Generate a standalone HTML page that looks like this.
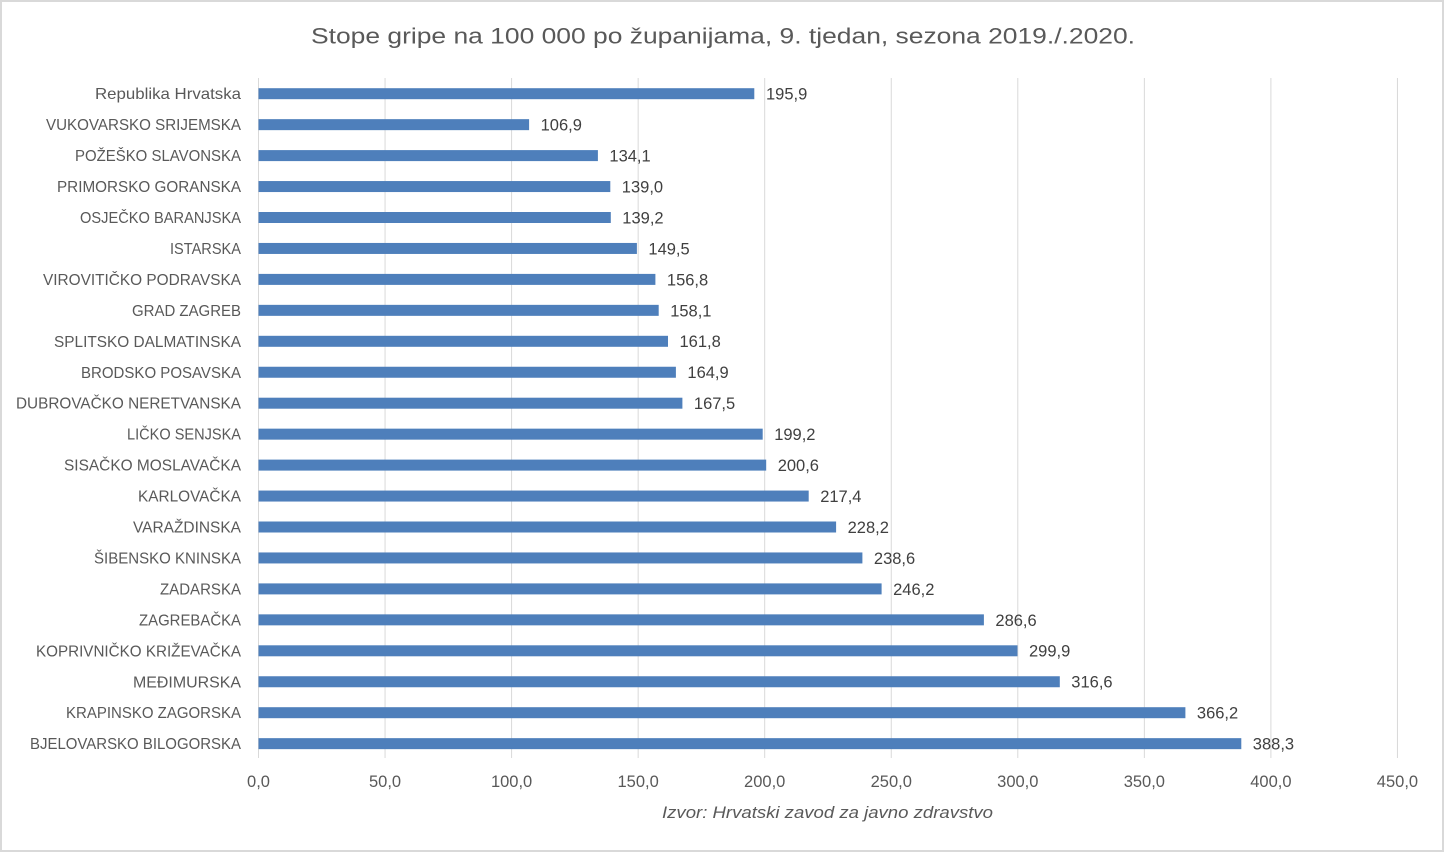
<!DOCTYPE html>
<html><head><meta charset="utf-8"><style>
html,body{margin:0;padding:0;background:#fff;}
svg{display:block;}
text{font-family:"Liberation Sans",Arial,sans-serif;fill:#595959;}
.c{font-size:16px;text-anchor:end;}
.v{font-size:16.5px;fill:#404040;}
.t{font-size:16.5px;text-anchor:middle;}
</style></head><body>
<svg width="1444" height="852" viewBox="0 0 1444 852" xmlns="http://www.w3.org/2000/svg">
<rect x="1" y="1" width="1442" height="850" fill="#fff" stroke="#d9d9d9" stroke-width="2"/>
<text x="311" y="43.5" font-size="22.5" textLength="824" lengthAdjust="spacingAndGlyphs">Stope gripe na 100 000 po županijama, 9. tjedan, sezona 2019./.2020.</text>
<g stroke="#d9d9d9" stroke-width="1">
<line x1="258.5" y1="78" x2="258.5" y2="758"/>
<line x1="385.05" y1="78" x2="385.05" y2="758"/>
<line x1="511.6" y1="78" x2="511.6" y2="758"/>
<line x1="638.15" y1="78" x2="638.15" y2="758"/>
<line x1="764.7" y1="78" x2="764.7" y2="758"/>
<line x1="891.25" y1="78" x2="891.25" y2="758"/>
<line x1="1017.8" y1="78" x2="1017.8" y2="758"/>
<line x1="1144.35" y1="78" x2="1144.35" y2="758"/>
<line x1="1270.9" y1="78" x2="1270.9" y2="758"/>
<line x1="1397.45" y1="78" x2="1397.45" y2="758"/>
</g>
<g class="ticks">
<text class="t" x="258.5" y="787">0,0</text>
<text class="t" x="385.05" y="787">50,0</text>
<text class="t" x="511.6" y="787">100,0</text>
<text class="t" x="638.15" y="787">150,0</text>
<text class="t" x="764.7" y="787">200,0</text>
<text class="t" x="891.25" y="787">250,0</text>
<text class="t" x="1017.8" y="787">300,0</text>
<text class="t" x="1144.35" y="787">350,0</text>
<text class="t" x="1270.9" y="787">400,0</text>
<text class="t" x="1397.45" y="787">450,0</text>
</g>
<text x="662" y="818" font-size="16.5" font-style="italic" textLength="331" lengthAdjust="spacingAndGlyphs">Izvor: Hrvatski zavod za javno zdravstvo</text>

<g fill="#4e7fbb">
<rect x="258.5" y="88.2" width="495.8" height="11"/>
<rect x="258.5" y="119.15" width="270.6" height="11"/>
<rect x="258.5" y="150.1" width="339.4" height="11"/>
<rect x="258.5" y="181.05" width="351.8" height="11"/>
<rect x="258.5" y="212" width="352.3" height="11"/>
<rect x="258.5" y="242.95" width="378.4" height="11"/>
<rect x="258.5" y="273.9" width="396.9" height="11"/>
<rect x="258.5" y="304.85" width="400.2" height="11"/>
<rect x="258.5" y="335.8" width="409.5" height="11"/>
<rect x="258.5" y="366.75" width="417.4" height="11"/>
<rect x="258.5" y="397.7" width="423.9" height="11"/>
<rect x="258.5" y="428.65" width="504.2" height="11"/>
<rect x="258.5" y="459.6" width="507.7" height="11"/>
<rect x="258.5" y="490.55" width="550.2" height="11"/>
<rect x="258.5" y="521.5" width="577.6" height="11"/>
<rect x="258.5" y="552.45" width="603.9" height="11"/>
<rect x="258.5" y="583.4" width="623.1" height="11"/>
<rect x="258.5" y="614.35" width="725.4" height="11"/>
<rect x="258.5" y="645.3" width="759.0" height="11"/>
<rect x="258.5" y="676.25" width="801.3" height="11"/>
<rect x="258.5" y="707.2" width="926.9" height="11"/>
<rect x="258.5" y="738.15" width="982.8" height="11"/>
</g>

<text class="c" x="241" y="99.2" textLength="146" lengthAdjust="spacingAndGlyphs">Republika Hrvatska</text>
<text class="c" x="241" y="130.15" textLength="195" lengthAdjust="spacingAndGlyphs">VUKOVARSKO SRIJEMSKA</text>
<text class="c" x="241" y="161.1" textLength="166" lengthAdjust="spacingAndGlyphs">POŽEŠKO SLAVONSKA</text>
<text class="c" x="241" y="192.05" textLength="184" lengthAdjust="spacingAndGlyphs">PRIMORSKO GORANSKA</text>
<text class="c" x="241" y="223" textLength="161" lengthAdjust="spacingAndGlyphs">OSJEČKO BARANJSKA</text>
<text class="c" x="241" y="253.95" textLength="71" lengthAdjust="spacingAndGlyphs">ISTARSKA</text>
<text class="c" x="241" y="284.9" textLength="198" lengthAdjust="spacingAndGlyphs">VIROVITIČKO PODRAVSKA</text>
<text class="c" x="241" y="315.85" textLength="109" lengthAdjust="spacingAndGlyphs">GRAD ZAGREB</text>
<text class="c" x="241" y="346.8" textLength="187" lengthAdjust="spacingAndGlyphs">SPLITSKO DALMATINSKA</text>
<text class="c" x="241" y="377.75" textLength="160" lengthAdjust="spacingAndGlyphs">BRODSKO POSAVSKA</text>
<text class="c" x="241" y="408.7" textLength="225" lengthAdjust="spacingAndGlyphs">DUBROVAČKO NERETVANSKA</text>
<text class="c" x="241" y="439.65" textLength="114" lengthAdjust="spacingAndGlyphs">LIČKO SENJSKA</text>
<text class="c" x="241" y="470.6" textLength="177" lengthAdjust="spacingAndGlyphs">SISAČKO MOSLAVAČKA</text>
<text class="c" x="241" y="501.55" textLength="103" lengthAdjust="spacingAndGlyphs">KARLOVAČKA</text>
<text class="c" x="241" y="532.5" textLength="108" lengthAdjust="spacingAndGlyphs">VARAŽDINSKA</text>
<text class="c" x="241" y="563.45" textLength="147" lengthAdjust="spacingAndGlyphs">ŠIBENSKO KNINSKA</text>
<text class="c" x="241" y="594.4" textLength="81" lengthAdjust="spacingAndGlyphs">ZADARSKA</text>
<text class="c" x="241" y="625.35" textLength="102" lengthAdjust="spacingAndGlyphs">ZAGREBAČKA</text>
<text class="c" x="241" y="656.3" textLength="205" lengthAdjust="spacingAndGlyphs">KOPRIVNIČKO KRIŽEVAČKA</text>
<text class="c" x="241" y="687.25" textLength="108" lengthAdjust="spacingAndGlyphs">MEĐIMURSKA</text>
<text class="c" x="241" y="718.2" textLength="175" lengthAdjust="spacingAndGlyphs">KRAPINSKO ZAGORSKA</text>
<text class="c" x="241" y="749.15" textLength="211" lengthAdjust="spacingAndGlyphs">BJELOVARSKO BILOGORSKA</text>

<text class="v" x="766" y="99.6">195,9</text>
<text class="v" x="540.6" y="130.55">106,9</text>
<text class="v" x="609.4" y="161.5">134,1</text>
<text class="v" x="621.8" y="192.45">139,0</text>
<text class="v" x="622.3" y="223.4">139,2</text>
<text class="v" x="648.4" y="254.35">149,5</text>
<text class="v" x="666.9" y="285.3">156,8</text>
<text class="v" x="670.2" y="316.25">158,1</text>
<text class="v" x="679.5" y="347.2">161,8</text>
<text class="v" x="687.4" y="378.15">164,9</text>
<text class="v" x="693.9" y="409.1">167,5</text>
<text class="v" x="774.2" y="440.05">199,2</text>
<text class="v" x="777.7" y="471">200,6</text>
<text class="v" x="820.2" y="501.95">217,4</text>
<text class="v" x="847.6" y="532.9">228,2</text>
<text class="v" x="873.9" y="563.85">238,6</text>
<text class="v" x="893.1" y="594.8">246,2</text>
<text class="v" x="995.4" y="625.75">286,6</text>
<text class="v" x="1029" y="656.7">299,9</text>
<text class="v" x="1071.3" y="687.65">316,6</text>
<text class="v" x="1196.9" y="718.6">366,2</text>
<text class="v" x="1252.8" y="749.55">388,3</text>
</svg>
</body></html>
